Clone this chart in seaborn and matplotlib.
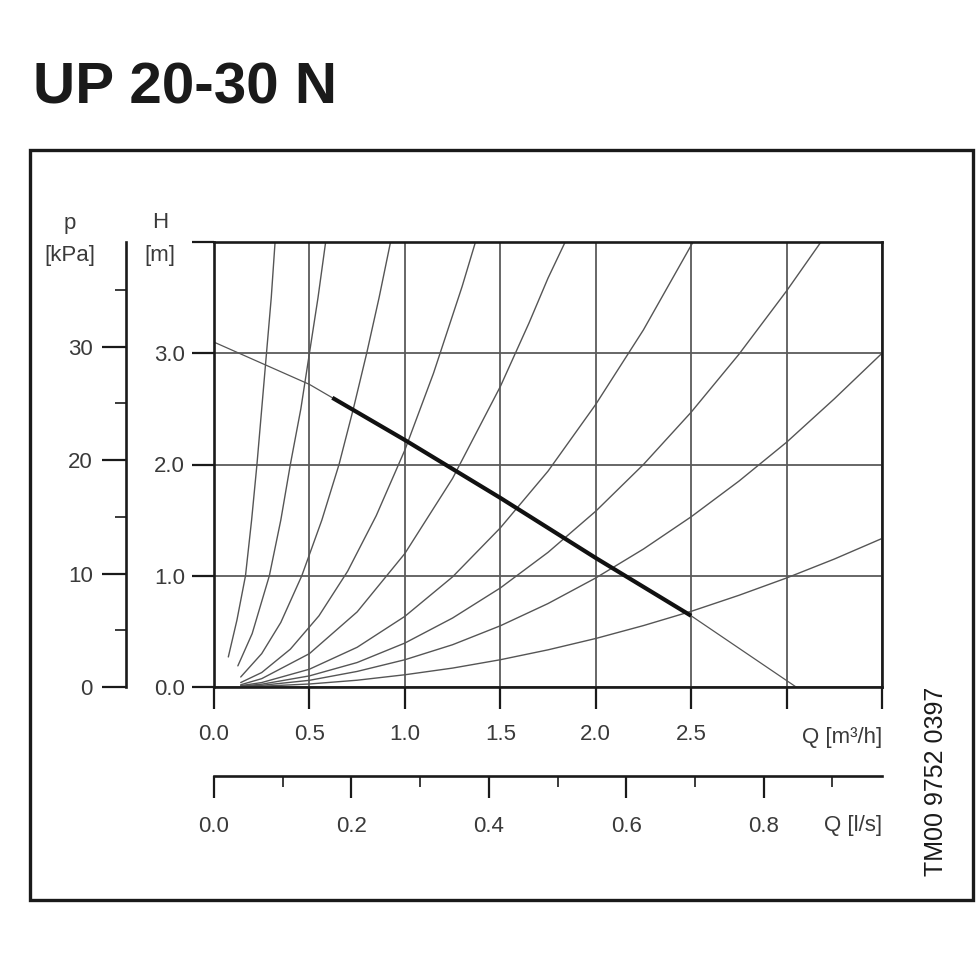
import matplotlib
matplotlib.use("Agg")
import matplotlib.pyplot as plt
from matplotlib.patches import Rectangle
from matplotlib.ticker import FixedLocator
import seaborn as sns

TITLE = "UP 20-30 N"
DRAWING_NO = "TM00 9752 0397"

# pump curve, flow Q [m3/h] vs head H [m]
pump_q = [0.0, 0.5, 0.62, 1.0, 1.5, 2.0, 2.5, 3.05]
pump_h = [3.10, 2.72, 2.60, 2.22, 1.70, 1.16, 0.64, 0.0]
# bold working range
duty_q = [0.62, 1.0, 1.5, 2.0, 2.5]
duty_h = [2.60, 2.22, 1.70, 1.16, 0.64]

# system curves, steepest first
sys1_q = [0.075, 0.12, 0.165, 0.197, 0.225, 0.25, 0.275, 0.30, 0.32]
sys1_h = [0.27, 0.60, 1.0, 1.5, 2.0, 2.5, 3.0, 3.5, 4.0]
sys2_q = [0.125, 0.20, 0.29, 0.35, 0.40, 0.455, 0.50, 0.545, 0.585]
sys2_h = [0.19, 0.48, 1.0, 1.5, 2.0, 2.5, 3.0, 3.5, 4.0]
sys3_q = [0.14, 0.25, 0.35, 0.46, 0.565, 0.655, 0.73, 0.80, 0.865, 0.925]
sys3_h = [0.09, 0.30, 0.58, 1.0, 1.5, 2.0, 2.5, 3.0, 3.5, 4.0]
sys4_q = [0.14, 0.25, 0.40, 0.55, 0.70, 0.85, 1.0, 1.15, 1.30, 1.37]
sys4_h = [0.04, 0.13, 0.34, 0.64, 1.04, 1.54, 2.13, 2.82, 3.60, 4.0]
sys5_q = [0.14, 0.25, 0.5, 0.75, 1.0, 1.25, 1.5, 1.65, 1.75, 1.84]
sys5_h = [0.02, 0.075, 0.30, 0.675, 1.20, 1.875, 2.70, 3.27, 3.675, 4.0]
sys6_q = [0.14, 0.25, 0.5, 0.75, 1.0, 1.25, 1.5, 1.75, 2.0, 2.25, 2.51]
sys6_h = [0.012, 0.04, 0.16, 0.357, 0.635, 0.99, 1.43, 1.94, 2.54, 3.21, 4.0]
sys7_q = [0.14, 0.25, 0.5, 0.75, 1.0, 1.25, 1.5, 1.75, 2.0, 2.25, 2.5, 2.75, 3.0, 3.18]
sys7_h = [0.008, 0.025, 0.10, 0.22, 0.395, 0.62, 0.89, 1.21, 1.58, 2.0, 2.47, 2.99, 3.56, 4.0]
sys8_q = [0.14, 0.25, 0.5, 0.75, 1.0, 1.25, 1.5, 1.75, 2.0, 2.25, 2.5, 2.75, 3.0, 3.25, 3.5]
sys8_h = [0.005, 0.015, 0.06, 0.14, 0.245, 0.38, 0.55, 0.75, 0.98, 1.24, 1.53, 1.85, 2.2, 2.59, 3.0]
sys9_q = [0.14, 0.25, 0.5, 0.75, 1.0, 1.25, 1.5, 1.75, 2.0, 2.25, 2.5, 2.75, 3.0, 3.25, 3.5]
sys9_h = [0.002, 0.007, 0.027, 0.061, 0.11, 0.17, 0.245, 0.334, 0.436, 0.552, 0.68, 0.824, 0.98, 1.15, 1.335]

# axis ticks and labels
q_ticks = [0.0, 0.5, 1.0, 1.5, 2.0, 2.5, 3.0, 3.5]
q_labels = ["0.0", "0.5", "1.0", "1.5", "2.0", "2.5", "", ""]
h_ticks = [0, 1, 2, 3, 4]
h_labels = ["0.0", "1.0", "2.0", "3.0", ""]
p_ticks = [0, 10, 20, 30]
p_minor = [5, 15, 25, 35]
ls_ticks = [0.0, 0.2, 0.4, 0.6, 0.8]
ls_labels = ["0.0", "0.2", "0.4", "0.6", "0.8"]
ls_minor = [0.1, 0.3, 0.5, 0.7, 0.9]

Q_MAX, H_MAX = 3.5, 4.0
KPA_PER_M = 9.81
M3H_PER_LS = 3.6

sns.set_style("ticks")
plt.rcParams["font.family"] = ["Liberation Sans", "DejaVu Sans"]

W = 980.0
INK = "#1a1a1a"
GREY = "#3a3a3a"
LINE = "#555555"


def fx(px):
    return px / W


def fy(py):
    return 1 - py / W


fig = plt.figure(figsize=(9.8, 9.8), dpi=100)

# main chart area
left, right, top, bottom = 214, 882, 242, 687
ax = fig.add_axes([fx(left), fy(bottom), fx(right - left), (bottom - top) / W])
ax.set_xlim(0, Q_MAX)
ax.set_ylim(0, H_MAX)
ax.xaxis.set_major_locator(FixedLocator(q_ticks))
ax.yaxis.set_major_locator(FixedLocator(h_ticks))
ax.set_xticklabels(q_labels)
ax.set_yticklabels(h_labels)
ax.grid(True, color="#5a5a5a", lw=1.3)
ax.set_axisbelow(True)
for s in ax.spines.values():
    s.set_color(INK)
    s.set_linewidth(1.9)
ax.tick_params(axis="x", length=16, width=1.6, pad=11, labelsize=16,
               colors=INK, labelcolor=GREY)
ax.tick_params(axis="y", length=16, width=1.6, pad=5, labelsize=16,
               colors=INK, labelcolor=GREY)

systems = [(sys1_q, sys1_h), (sys2_q, sys2_h), (sys3_q, sys3_h),
           (sys4_q, sys4_h), (sys5_q, sys5_h), (sys6_q, sys6_h),
           (sys7_q, sys7_h), (sys8_q, sys8_h), (sys9_q, sys9_h)]
for q, h in systems:
    sns.lineplot(x=q, y=h, ax=ax, color=LINE, linewidth=1.0,
                 estimator=None, sort=False)

sns.lineplot(x=pump_q, y=pump_h, ax=ax, color="#555555", linewidth=0.9,
             estimator=None, sort=False)
sns.lineplot(x=duty_q, y=duty_h, ax=ax, color="#111111", linewidth=3.0,
             estimator=None, sort=False, solid_capstyle="butt")
ax.set_xlabel("")
ax.set_ylabel("")

ax.text(1.0, -0.113, "Q [m³/h]", transform=ax.transAxes, ha="right",
        va="center", fontsize=16, color=GREY)

# pressure scale [kPa]
ax_p = fig.add_axes([fx(126), fy(bottom), 0.001, (bottom - top) / W])
ax_p.set_ylim(0, H_MAX * KPA_PER_M)
ax_p.set_xticks([])
for name in ["top", "right", "bottom"]:
    ax_p.spines[name].set_visible(False)
ax_p.spines["left"].set_color(INK)
ax_p.spines["left"].set_linewidth(1.9)
ax_p.patch.set_alpha(0)
ax_p.yaxis.set_major_locator(FixedLocator(p_ticks))
ax_p.yaxis.set_minor_locator(FixedLocator(p_minor))
ax_p.set_yticklabels([str(t) for t in p_ticks])
ax_p.tick_params(axis="y", which="major", length=17, width=1.6, pad=7,
                 labelsize=16, colors=INK, labelcolor=GREY)
ax_p.tick_params(axis="y", which="minor", length=8, width=1.2, colors=INK)

# flow scale [l/s]
ax_l = fig.add_axes([fx(left), fy(776), fx(right - left), 0.001])
ax_l.set_xlim(0, Q_MAX / M3H_PER_LS)
ax_l.set_yticks([])
for name in ["top", "right", "left"]:
    ax_l.spines[name].set_visible(False)
ax_l.spines["bottom"].set_color(INK)
ax_l.spines["bottom"].set_linewidth(1.9)
ax_l.patch.set_alpha(0)
ax_l.xaxis.set_major_locator(FixedLocator(ls_ticks))
ax_l.xaxis.set_minor_locator(FixedLocator(ls_minor))
ax_l.set_xticklabels(ls_labels)
ax_l.tick_params(axis="x", which="major", length=16, width=1.6, pad=13,
                 labelsize=16, colors=INK, labelcolor=GREY)
ax_l.tick_params(axis="x", which="minor", length=8, width=1.2, colors=INK)

# axis captions and notes
cap = dict(ha="center", va="center", fontsize=16, color=GREY)
fig.text(fx(70), fy(223), "p", **cap)
fig.text(fx(70), fy(255), "[kPa]", **cap)
fig.text(fx(160), fy(222), "H", **cap)
fig.text(fx(160), fy(255), "[m]", **cap)
fig.text(fx(882), fy(825), "Q [l/s]", ha="right", va="center",
         fontsize=16, color=GREY)
fig.text(fx(936), fy(781), DRAWING_NO, rotation=90, ha="center",
         va="center", fontsize=18, color=INK)

fig.text(fx(33), fy(104), TITLE, ha="left", va="baseline", fontsize=42,
         fontweight="bold", color=INK)

fig.add_artist(Rectangle((fx(30), fy(900)), fx(943), 750 / W,
                         transform=fig.transFigure, fill=False,
                         edgecolor=INK, linewidth=2.4))

fig.savefig("out.png", dpi=100, facecolor="white")
